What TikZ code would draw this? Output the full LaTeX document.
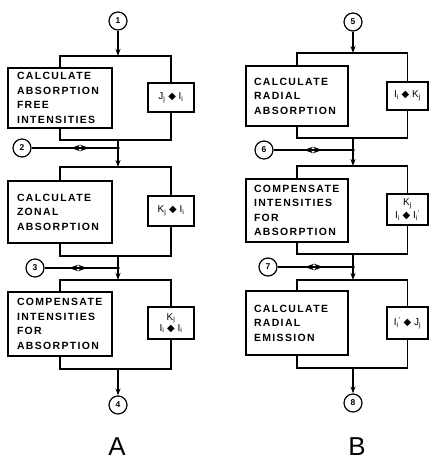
\documentclass[tikz,border=0pt]{standalone}
\usepackage{fontspec}
\setmainfont{Liberation Sans}
\newfontfamily\boxfont{Liberation Sans}[LetterSpace=13]
\newfontfamily\symf{DejaVu Sans}
\usetikzlibrary{arrows.meta,decorations.markings}

\newcommand{\opsym}{{\symf ◆}}

\begin{document}
\begin{tikzpicture}[
  x=1bp, y=-1bp,
  line width=1.2pt,
  proc/.style={draw, font=\boxfont\bfseries\fontsize{10.5}{14.5}\selectfont,
    align=left, text width=86bp, inner xsep=8bp, inner ysep=0pt},
  opbox/.style={draw, font=\fontsize{10}{10}\selectfont, align=center,
    inner sep=1pt, minimum height=29bp},
  conn/.style={circle, draw, minimum size=18bp, inner sep=0pt,
    font=\bfseries\fontsize{8.5}{8.5}\selectfont},
  ln/.style={line width=1.2pt},
  arr/.style={ln, -{Stealth[length=7bp, width=5bp]}},
  feed/.style 2 args={ln, postaction={decorate}, decoration={markings,
    mark=at position #1 with {\arrowreversed{Stealth[length=9bp, width=6.5bp]}},
    mark=at position #2 with {\arrow{Stealth[length=9bp, width=6.5bp]}}}},
  dot/.style={circle, fill, inner sep=0pt, minimum size=3.5bp},
  big/.style={font=\fontsize{26}{26}\selectfont, inner sep=0pt, anchor=base}
]
\useasboundingbox (0,0) rectangle (431,461);

% ---- column A
\node[conn] (c1) at (118,21) {1};
\node[conn] (c2) at (22,148) {2};
\node[conn] (c3) at (35,268) {3};
\node[conn] (c4) at (118,405) {4};

\node[proc, minimum width=104bp, minimum height=60bp] (a1) at (60,98)
  {CALCULATE\\ABSORPTION\\FREE\\INTENSITIES};
\node[opbox, minimum width=46bp] (a1op) at (171,97.5)
  {J\textsubscript{j} \opsym{} I\textsubscript{i}};
\node[proc, minimum width=104bp, minimum height=62bp] (a2) at (60,212)
  {CALCULATE\\ZONAL\\ABSORPTION};
\node[opbox, minimum width=46bp, minimum height=30bp] (a2op) at (171,211)
  {K\textsubscript{j} \opsym{} I\textsubscript{i}};
\node[proc, minimum width=104bp, minimum height=64bp] (a3) at (60,324)
  {COMPENSATE\\INTENSITIES\\FOR\\ABSORPTION};
\node[opbox, minimum width=46bp, minimum height=32bp] (a3op) at (171,323)
  {K\textsubscript{j}\\[1pt]I\textsubscript{i} \opsym{} I\textsubscript{i}};

\coordinate (a1t) at (118,56);
\coordinate (a1b) at (118,140);
\coordinate (j2) at (118,148);
\coordinate (a2t) at (118,167);
\coordinate (a2b) at (118,256);
\coordinate (j3) at (118,268);
\coordinate (a3t) at (118,280);
\coordinate (a3b) at (118,369);

\draw[ln] (a1.north) |- (a1t) -| (a1op.north);
\draw[ln] (a1.south) |- (a1b) -| (a1op.south);
\draw[ln] (a2.north) |- (a2t) -| (a2op.north);
\draw[ln] (a2.south) |- (a2b) -| (a2op.south);
\draw[ln] (a3.north) |- (a3t) -| (a3op.north);
\draw[ln] (a3.south) |- (a3b) -| (a3op.south);

\draw[arr] (c1) -- (a1t);
\draw[arr] (a1b) -- (a2t);
\draw[arr] (a2b) -- (a3t);
\draw[arr] (a3b) -- (c4);
\draw[feed={39.5bp}{57.5bp}] (c2) -- (j2);
\draw[feed={24.5bp}{42.5bp}] (c3) -- (j3);
\node[dot] at (j2) {};
\node[dot] at (j3) {};

\node[big] (la) at (117,455) {A};

% ---- column B
\node[conn] (c5) at (353,22) {5};
\node[conn] (c6) at (264,150) {6};
\node[conn] (c7) at (268,267) {7};
\node[conn] (c8) at (353,403) {8};

\node[proc, minimum height=60bp] (b1) at (297,96)
  {CALCULATE\\RADIAL\\ABSORPTION};
\node[opbox, minimum width=41bp, minimum height=28bp] (b1op) at (407.5,96)
  {I\textsubscript{i} \opsym{} K\textsubscript{j}};
\node[proc, minimum height=63bp] (b2) at (297,210.5)
  {COMPENSATE\\INTENSITIES\\FOR\\ABSORPTION};
\node[opbox, minimum width=41bp, minimum height=31bp] (b2op) at (407.5,209.5)
  {K\textsubscript{j}\\[1pt]I\textsubscript{i} \opsym{} I\textsubscript{i}\textsuperscript{'}};
\node[proc, minimum height=64bp] (b3) at (297,323)
  {CALCULATE\\RADIAL\\EMISSION};
\node[opbox, minimum width=41bp, minimum height=32bp] (b3op) at (407.5,323)
  {I\textsubscript{i}\textsuperscript{'} \opsym{} J\textsubscript{j}};

\coordinate (b1t) at (353,53);
\coordinate (b1b) at (353,138);
\coordinate (j6) at (353,150);
\coordinate (b2t) at (353,166);
\coordinate (b2b) at (353,254);
\coordinate (j7) at (353,267);
\coordinate (b3t) at (353,280);
\coordinate (b3b) at (353,368);

\draw[ln] (b1.north) |- (b1t) -| (b1op.north);
\draw[ln] (b1.south) |- (b1b) -| (b1op.south);
\draw[ln] (b2.north) |- (b2t) -| (b2op.north);
\draw[ln] (b2.south) |- (b2b) -| (b2op.south);
\draw[ln] (b3.north) |- (b3t) -| (b3op.north);
\draw[ln] (b3.south) |- (b3b) -| (b3op.south);

\draw[arr] (c5) -- (b1t);
\draw[arr] (b1b) -- (b2t);
\draw[arr] (b2b) -- (b3t);
\draw[arr] (b3b) -- (c8);
\draw[feed={30.5bp}{48.5bp}] (c6) -- (j6);
\draw[feed={27.5bp}{45.5bp}] (c7) -- (j7);
\node[dot] at (j6) {};
\node[dot] at (j7) {};

\node[big] (lb) at (357,455) {B};
\end{tikzpicture}
\end{document}
